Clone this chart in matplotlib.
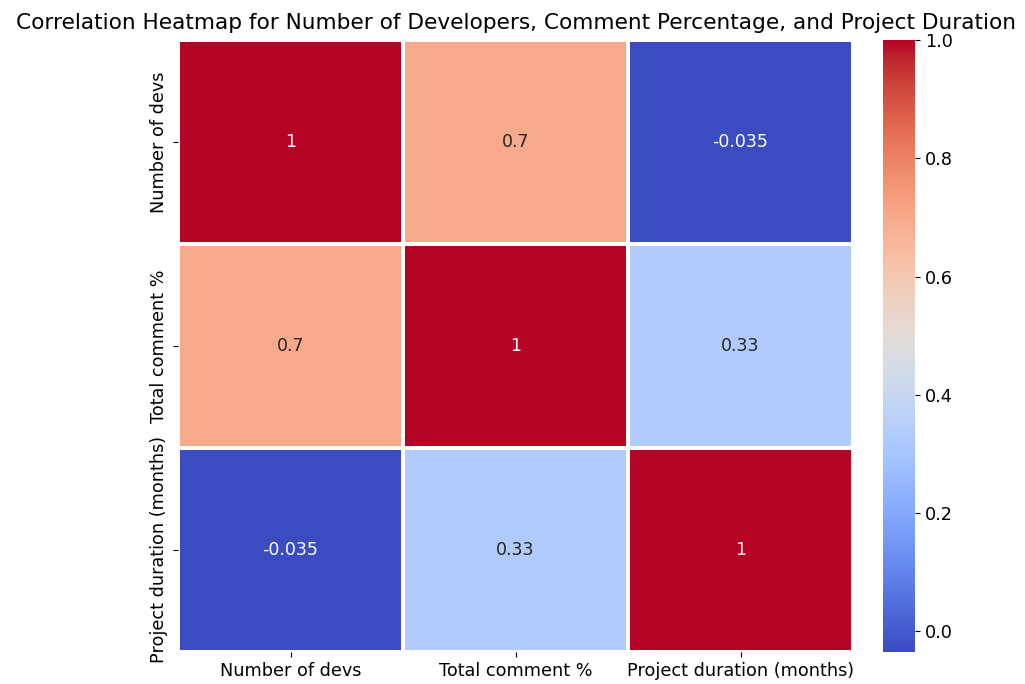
import numpy as np
import matplotlib
matplotlib.use("Agg")
import matplotlib.pyplot as plt
import seaborn as sns

labels = ["Number of devs", "Total comment %", "Project duration (months)"]
row_devs = [1.0, 0.7, -0.035]
row_comment = [0.7, 1.0, 0.33]
row_duration = [-0.035, 0.33, 1.0]

corr = np.array([row_devs, row_comment, row_duration])

fig = plt.figure(figsize=(10.25, 6.84), dpi=100)
ax = fig.add_axes([0.1737, 0.0468, 0.6585, 0.8947])
cax = fig.add_axes([0.8615, 0.0468, 0.0312, 0.8947])

sns.heatmap(corr, annot=True, cmap="coolwarm", linewidths=1.5, linecolor="white",
            xticklabels=labels, yticklabels=labels, ax=ax, cbar_ax=cax,
            annot_kws={"fontsize": 12.5})

ax.tick_params(axis="both", labelsize=12.7)
cax.tick_params(labelsize=12.7)
ax.set_title("Correlation Heatmap for Number of Developers, Comment Percentage, and Project Duration",
             fontsize=15.6, pad=8)

fig.savefig("out.png", dpi=100)
